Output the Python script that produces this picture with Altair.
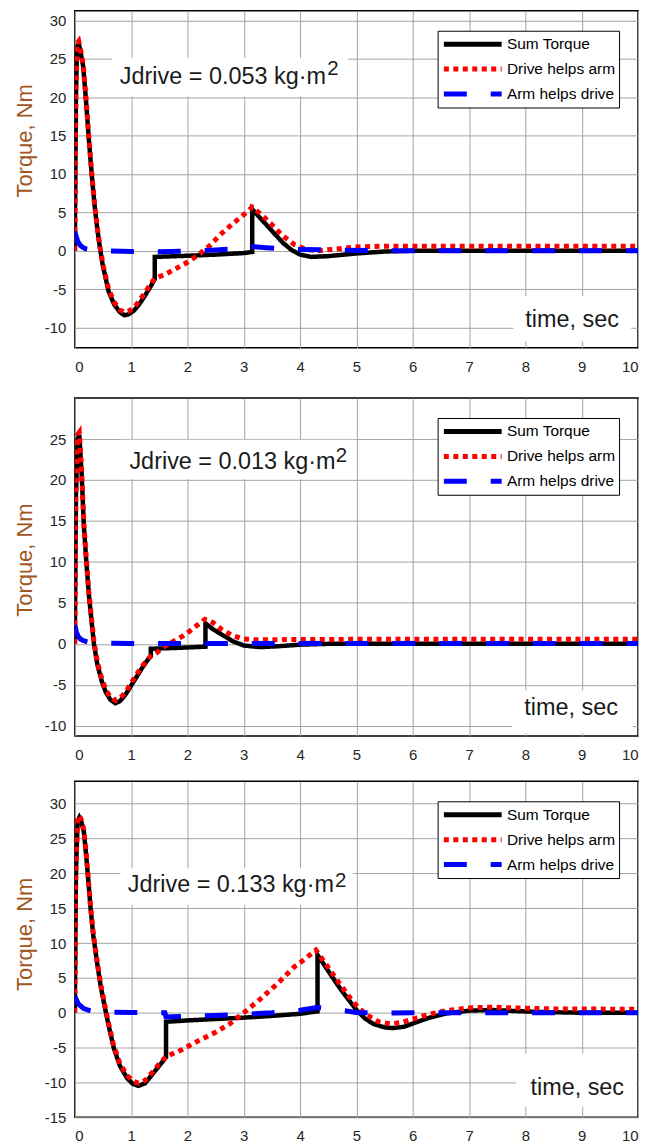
import altair as alt
import pandas as pd

FONT = "Liberation Sans"
SERIES = ["Sum Torque", "Drive helps arm", "Arm helps drive"]
COLORS = ["#000000", "#ff0000", "#0000ff"]
DASHES = [[1, 0], [5, 4.5], [23, 24]]
WIDTHS = [4.5, 5, 5]

# ---------------- Panel 1 : Jdrive = 0.053 ----------------
P1_SUM_T = [0, 0.02, 0.04, 0.07, 0.1, 0.15, 0.2, 0.25, 0.3, 0.35, 0.4, 0.45, 0.5, 0.6, 0.7, 0.8, 0.88, 0.95, 1.05, 1.15,
            1.25, 1.35, 1.42, 1.42, 2.0, 2.5, 3.0, 3.15, 3.15, 3.3, 3.5, 3.7, 3.85, 4.0, 4.2, 4.5, 5.0, 5.5, 6.0, 7.0,
            8.0, 9.0, 10.0]
P1_SUM_V = [0, 20, 26.5, 27.0, 26.0, 24.0, 19.5, 14.5, 10.0, 6.0, 2.8, 0.2, -2.0, -5.3, -7.0, -8.0, -8.4, -8.3, -7.8, -6.9,
            -5.8, -4.6, -3.7, -0.8, -0.65, -0.5, -0.3, -0.15, 5.4, 4.2, 2.6, 1.0, 0.1, -0.5, -0.8, -0.7, -0.35, -0.1, 0.0, 0.0,
            0.0, 0.0, 0.0]
P1_DRV_T = [0, 0.02, 0.04, 0.07, 0.1, 0.15, 0.2, 0.25, 0.3, 0.35, 0.4, 0.45, 0.5, 0.6, 0.7, 0.8, 0.88, 0.95, 1.05, 1.15,
            1.25, 1.35, 1.42, 1.6, 1.8, 2.0, 2.2, 2.4, 2.6, 2.8, 3.0, 3.15, 3.3, 3.5, 3.7, 3.9, 4.1, 4.3, 4.6, 5.0,
            5.5, 6.0, 8.0, 10.0]
P1_DRV_V = [0, 21, 27.0, 27.3, 26.3, 24.2, 19.8, 14.8, 10.2, 6.2, 3.0, 0.4, -1.8, -5.0, -6.7, -7.7, -8.0, -7.9, -7.4, -6.5,
            -5.4, -4.3, -3.6, -3.1, -2.3, -1.5, -0.5, 0.7, 2.2, 3.5, 4.7, 5.7, 4.8, 3.4, 1.9, 0.8, 0.2, 0.0, 0.2, 0.5,
            0.6, 0.6, 0.6, 0.6]
P1_ARM_T = [0, 0.03, 0.06, 0.1, 0.15, 0.2, 0.3, 0.5, 1.0, 1.42, 2.0, 2.5, 3.0, 3.15, 3.4, 3.8, 4.5, 5.5, 10]
P1_ARM_V = [2.5, 1.7, 1.1, 0.7, 0.4, 0.25, 0.1, 0.0, -0.1, -0.15, -0.05, 0.1, 0.3, 0.55, 0.4, 0.2, 0.1, 0.0, 0.0]

# ---------------- Panel 2 : Jdrive = 0.013 ----------------
P2_SUM_T = [0, 0.02, 0.05, 0.08, 0.12, 0.16, 0.2, 0.25, 0.3, 0.34, 0.4, 0.48, 0.55, 0.63, 0.72, 0.8, 0.9, 1.0, 1.1, 1.2,
            1.28, 1.35, 1.35, 1.8, 2.32, 2.32, 2.45, 2.64, 2.81, 3.0, 3.28, 3.6, 4.0, 4.5, 6.0, 8.0, 10.0]
P2_SUM_V = [0, 18, 25.0, 25.5, 21.0, 14.6, 10.5, 6.0, 2.6, 0.0, -2.5, -4.6, -5.9, -6.8, -7.25, -7.0, -6.2, -5.1, -4.0, -2.9,
            -2.1, -1.5, -0.6, -0.5, -0.35, 2.5, 1.8, 1.0, 0.3, -0.2, -0.4, -0.3, -0.1, 0.0, 0.0, 0.0, 0.0]
P2_DRV_T = [0, 0.02, 0.05, 0.08, 0.12, 0.16, 0.2, 0.25, 0.3, 0.34, 0.4, 0.48, 0.55, 0.63, 0.72, 0.8, 0.9, 1.0, 1.1, 1.2,
            1.28, 1.35, 1.45, 1.575, 1.75, 1.93, 2.05, 2.16, 2.31, 2.45, 2.6, 2.8, 3.0, 3.2, 5.0, 10.0]
P2_DRV_V = [0, 19, 25.5, 25.8, 21.3, 14.9, 10.8, 6.3, 2.9, 0.3, -2.2, -4.3, -5.6, -6.5, -6.9, -6.7, -5.9, -4.8, -3.7, -2.7,
            -2.0, -1.5, -1.1, -0.4, 0.3, 1.0, 1.6, 2.2, 3.0, 2.6, 1.8, 1.0, 0.6, 0.5, 0.55, 0.55]
P2_ARM_T = [0, 0.03, 0.06, 0.1, 0.15, 0.25, 0.5, 1.0, 10.0]
P2_ARM_V = [2.3, 1.4, 0.9, 0.6, 0.4, 0.2, 0.1, 0.05, 0.05]

# ---------------- Panel 3 : Jdrive = 0.133 ----------------
P3_SUM_T = [0, 0.02, 0.05, 0.08, 0.12, 0.16, 0.2, 0.24, 0.28, 0.33, 0.39, 0.46, 0.54, 0.6, 0.69, 0.8, 0.93, 1.03, 1.13, 1.25,
            1.37, 1.48, 1.62, 1.62, 2.0, 2.5, 3.0, 3.5, 4.0, 4.31, 4.31, 4.5, 4.7, 4.85, 5.0, 5.15, 5.3, 5.5, 5.65, 5.85,
            6.05, 6.3, 6.6, 7.0, 7.4, 7.8, 8.3, 9.0, 10.0]
P3_SUM_V = [0, 20, 27.5, 28.0, 27.3, 26.0, 22.8, 19.0, 15.0, 11.0, 7.5, 3.8, 0.5, -1.8, -5.0, -7.6, -9.4, -10.2, -10.5, -10.1,
            -8.9, -7.8, -6.4, -1.3, -1.1, -0.9, -0.7, -0.45, -0.15, 0.2, 8.3, 6.0, 3.6, 2.0, 0.4, -0.8, -1.6, -2.1, -2.2, -2.0,
            -1.4, -0.7, -0.1, 0.3, 0.4, 0.25, 0.1, 0.0, 0.0]
P3_DRV_T = [0, 0.02, 0.05, 0.08, 0.12, 0.16, 0.2, 0.24, 0.28, 0.33, 0.39, 0.46, 0.54, 0.6, 0.69, 0.8, 0.93, 1.03, 1.13, 1.25,
            1.37, 1.48, 1.62, 1.9, 2.2, 2.5, 2.75, 3.0, 3.3, 3.6, 3.9, 4.1, 4.28, 4.5, 4.7, 4.9, 5.05, 5.2, 5.4, 5.6,
            5.8, 6.05, 6.3, 6.6, 7.0, 7.4, 7.8, 8.5, 10.0]
P3_DRV_V = [0, 21, 28.0, 28.3, 27.6, 26.3, 23.1, 19.3, 15.3, 11.3, 7.8, 4.1, 0.8, -1.5, -4.7, -7.3, -9.0, -9.8, -10.1, -9.7,
            -8.6, -7.5, -6.3, -5.3, -4.0, -2.8, -1.6, 0.0, 2.0, 4.2, 6.6, 7.8, 9.0, 6.5, 4.2, 2.0, 0.6, -0.4, -1.3, -1.6,
            -1.4, -0.8, -0.2, 0.3, 0.7, 0.8, 0.7, 0.55, 0.5]
P3_ARM_T = [0, 0.03, 0.06, 0.1, 0.16, 0.25, 0.35, 0.6, 1.0, 1.6, 1.62, 2.0, 2.5, 3.0, 3.5, 4.0, 4.3, 4.45, 4.7, 5.0,
            5.5, 6.0, 10.0]
P3_ARM_V = [2.4, 1.8, 1.3, 1.0, 0.6, 0.35, 0.2, 0.1, 0.05, 0.0, -0.6, -0.5, -0.4, -0.25, 0.0, 0.35, 0.75, 0.7, 0.4, 0.05,
            -0.05, 0.0, 0.0]

PANEL_SERIES = [
    [(P1_SUM_T, P1_SUM_V), (P1_DRV_T, P1_DRV_V), (P1_ARM_T, P1_ARM_V)],
    [(P2_SUM_T, P2_SUM_V), (P2_DRV_T, P2_DRV_V), (P2_ARM_T, P2_ARM_V)],
    [(P3_SUM_T, P3_SUM_V), (P3_DRV_T, P3_DRV_V), (P3_ARM_T, P3_ARM_V)],
]

# axes
X_TICKS = list(range(0, 11))
Y_DOMAINS = [[-12.63, 31.26], [-11.25, 30.0], [-15.0, 33.2]]
Y_TICKS = [list(range(-10, 31, 5)), list(range(-10, 26, 5)), list(range(-15, 31, 5))]
HEIGHTS = [338, 339, 337]
TITLE_X = [-50.5, -50.5, -50.5]
TITLE_Y = [130, 162, 153]
X_SPACER = [5, 0, 0]   # extra room under panel 1's tick labels

# annotations
J_LABELS = ["Jdrive = 0.053 kg\u00b7m", "Jdrive = 0.013 kg\u00b7m", "Jdrive = 0.133 kg\u00b7m"]
J_POS = [(0.80, 21.75), (0.97, 21.4), (0.94, 17.3)]
J_SUP_DX = [208, 207, 208]
J_SUP_DY = [-9, -7, -5]
J_BOX = [(0.66, 4.85, 20.1, 25.1), (0.81, 4.99, 20.1, 24.9), (0.81, 4.94, 15.5, 20.7)]
T_LABEL = "time, sec"
T_POS = [(8.0, -9.9), (7.98, -8.73), (8.09, -11.76)]
T_BOX = [(7.79, 9.88, -11.8, -5.9), (7.77, 9.91, -10.9, -5.7), (7.84, 9.96, -13.5, -5.9)]

TEXT_COLOR = "#1a1a1a"
TITLE_COLOR = "#a0561e"


def panel(k):
    if X_SPACER[k]:
        xaxis = alt.Axis(values=X_TICKS, title=" ", titleFontSize=X_SPACER[k], titlePadding=0,
                         labelPadding=11.5, labelExpr="'' + datum.value")
    else:
        xaxis = alt.Axis(values=X_TICKS, title=None, labelPadding=11.5, labelExpr="'' + datum.value")
    xenc = alt.X("t:Q", scale=alt.Scale(domain=[0, 10], nice=False, zero=False), axis=xaxis)
    yenc = alt.Y("v:Q", scale=alt.Scale(domain=Y_DOMAINS[k], nice=False, zero=False),
                 axis=alt.Axis(values=Y_TICKS[k], title="Torque, Nm", titleX=TITLE_X[k], titleY=TITLE_Y[k],
                               titleAngle=270, titleAlign="center", titleBaseline="middle",
                               titleFontSize=22, titleFontWeight="normal", titleColor=TITLE_COLOR,
                               labelPadding=9, labelExpr="'' + datum.value"))
    leg = alt.Legend(orient="top-right", offset=19.5, title=None, symbolType="M-1,0L7,0", symbolSize=210,
                     symbolStrokeWidth=5, labelFont=FONT, labelFontSize=15.5, labelColor="#000",
                     padding=3.5, rowPadding=5, labelOffset=46, strokeColor="#000", fillColor="white",
                     cornerRadius=0)
    col = alt.Color("series:N", scale=alt.Scale(domain=SERIES, range=COLORS), legend=leg)
    dash = alt.StrokeDash("series:N", scale=alt.Scale(domain=SERIES, range=DASHES), legend=leg)

    layers = []
    boxes = pd.DataFrame({
        "t": [J_BOX[k][0], T_BOX[k][0]], "t2": [J_BOX[k][1], T_BOX[k][1]],
        "v": [J_BOX[k][2], T_BOX[k][2]], "v2": [J_BOX[k][3], T_BOX[k][3]],
    })
    layers.append(alt.Chart(boxes).mark_rect(color="white").encode(
        x=xenc, x2=alt.X2("t2:Q"), y=yenc, y2=alt.Y2("v2:Q")))

    for s, (tt, vv) in enumerate(PANEL_SERIES[k]):
        df = pd.DataFrame({"t": tt, "v": vv, "series": SERIES[s], "i": list(range(len(tt)))})
        layers.append(alt.Chart(df).mark_line(strokeWidth=WIDTHS[s], clip=True).encode(
            x=xenc, y=yenc, color=col, strokeDash=dash, order=alt.Order("i:Q")))

    jdf = pd.DataFrame({"t": [J_POS[k][0]], "v": [J_POS[k][1]], "s": [J_LABELS[k]]})
    layers.append(alt.Chart(jdf).mark_text(align="left", baseline="alphabetic", font=FONT, fontSize=23.5,
                                           color=TEXT_COLOR).encode(x=xenc, y=yenc, text="s:N"))
    sdf = pd.DataFrame({"t": [J_POS[k][0]], "v": [J_POS[k][1]], "s": ["2"]})
    layers.append(alt.Chart(sdf).mark_text(align="left", baseline="alphabetic", font=FONT, fontSize=20.5,
                                           dx=J_SUP_DX[k], dy=J_SUP_DY[k],
                                           color=TEXT_COLOR).encode(x=xenc, y=yenc, text="s:N"))
    tdf = pd.DataFrame({"t": [T_POS[k][0]], "v": [T_POS[k][1]], "s": [T_LABEL]})
    layers.append(alt.Chart(tdf).mark_text(align="left", baseline="alphabetic", font=FONT, fontSize=23.5,
                                           color=TEXT_COLOR).encode(x=xenc, y=yenc, text="s:N"))

    return alt.layer(*layers).properties(width=565, height=HEIGHTS[k])


chart = alt.concat(panel(0), panel(1), panel(2), columns=1, align="none", spacing=16.5).resolve_scale(
    x="independent", y="independent", color="independent", strokeDash="independent"
).resolve_legend(color="independent", strokeDash="independent").properties(
    padding={"left": 4, "top": 0, "right": 0, "bottom": 0}
).configure(font=FONT).configure_view(
    stroke="#000", strokeWidth=1.5
).configure_axis(
    grid=True, gridColor="#a4a4a4", gridWidth=1, domain=False, ticks=False,
    labelFont=FONT, labelFontSize=15, labelColor="#262626", titleFont=FONT
)

chart.save("out.html", embed_options={"renderer": "svg", "actions": False})
